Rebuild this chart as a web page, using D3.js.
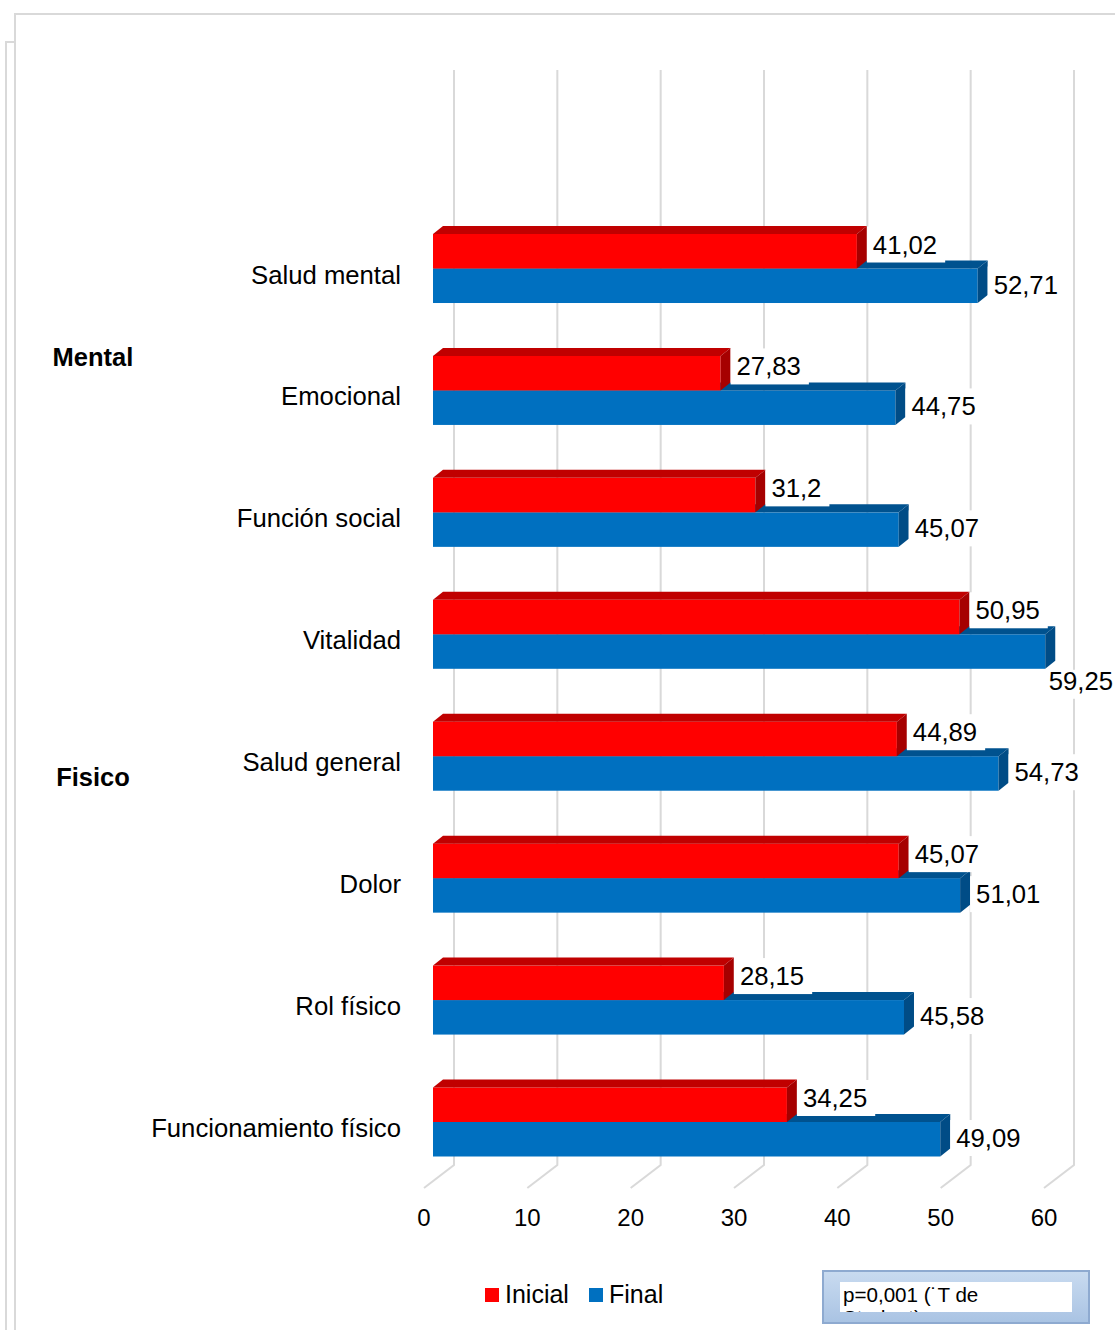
<!DOCTYPE html>
<html>
<head>
<meta charset="utf-8">
<script src="https://cdn.jsdelivr.net/npm/d3@7"></script>
<style>
  body { margin: 0; background: #fff; }
  svg { display: block; font-family: "Liberation Sans", Arial, sans-serif; }
</style>
</head>
<body>
<svg id="chart" width="1115" height="1330"></svg>
<script>
// datos
const categorias = ["Salud mental", "Emocional", "Función social", "Vitalidad",
  "Salud general", "Dolor", "Rol físico", "Funcionamiento físico"];
const inicial = [41.02, 27.83, 31.2, 50.95, 44.89, 45.07, 28.15, 34.25];
const final = [52.71, 44.75, 45.07, 59.25, 54.73, 51.01, 45.58, 49.09];
const ticks = [0, 10, 20, 30, 40, 50, 60];
const grupos = [
  { nombre: "Mental", desde: 0, hasta: 2 },
  { nombre: "Fisico", desde: 3, hasta: 7 }
];
const series = ["Inicial", "Final"];
const nota = ["p=0,001 (˙T de", "Student)"];

const svg = d3.select("#chart");
const W = 1115;

const es = d3.formatLocale({ decimal: ",", thousands: ".", grouping: [3], currency: ["", ""] });
const fmt = es.format(".2~f");

const colores = {
  Inicial: { frente: "#ff0000", arriba: "#c00000", lado: "#a60000" },
  Final: { frente: "#0070c0", arriba: "#00528f", lado: "#004c86" }
};

// escala (frente del piso), profundidad del 3D
const x = d3.scaleLinear().domain([0, 60]).range([424, 1044]);
const profX = 30, profY = 23;     // piso completo
const barX = 9;                    // cara frontal de las barras
const dx = 10, dy = 8;             // grosor de la barra

const y = d3.scaleBand()
  .domain(categorias)
  .range([234, 1156.5])
  .paddingInner(0.434)
  .paddingOuter(0);

// marco
svg.append("path")
  .attr("d", "M15,1330V14H1115")
  .attr("fill", "none").attr("stroke", "#d9d9d9").attr("stroke-width", 2);
svg.append("path")
  .attr("d", "M6,1330V42H15")
  .attr("fill", "none").attr("stroke", "#d9d9d9").attr("stroke-width", 2);

// lineas de division (pared del fondo + piso)
svg.append("g").selectAll("path")
  .data(ticks)
  .enter()
  .append("path")
  .attr("d", t => {
    const xb = x(t) + profX;
    return `M${xb},70V1165L${x(t)},${1165 + profY}`;
  })
  .attr("fill", "none")
  .attr("stroke", "#d9d9d9")
  .attr("stroke-width", 2);

// etiquetas del eje
svg.append("g").selectAll("text")
  .data(ticks)
  .enter()
  .append("text")
  .attr("x", t => x(t))
  .attr("y", 1226)
  .attr("text-anchor", "middle")
  .attr("font-size", 24)
  .text(t => t);

function barra(g, v, y0, y1, c) {
  const x0 = x(0) + barX;
  const x1 = x(v) + barX;
  g.append("rect")
    .attr("x", x0).attr("y", y0)
    .attr("width", x1 - x0).attr("height", y1 - y0)
    .attr("fill", c.frente);
  g.append("path")
    .attr("d", `M${x0},${y0}L${x0 + dx},${y0 - dy}L${x1 + dx},${y0 - dy}L${x1},${y0}Z`)
    .attr("fill", c.arriba);
  g.append("path")
    .attr("d", `M${x1},${y0}L${x1 + dx},${y0 - dy}L${x1 + dx},${y1 - dy}L${x1},${y1}Z`)
    .attr("fill", c.lado);
  return x1;
}

const gBarras = svg.append("g");
const etiquetas = [];
categorias.forEach((cat, i) => {
  const top = y(cat);
  const h = y.bandwidth() / 2;
  const mid = top + h;
  const xf = barra(gBarras, final[i], mid, top + 2 * h, colores.Final);
  const xi = barra(gBarras, inicial[i], top, mid, colores.Inicial);
  etiquetas.push({ v: inicial[i], x: xi + dx + 6, y: mid - 15, fin: xi, abajo: top + 2 * h });
  etiquetas.push({ v: final[i], x: xf + dx + 6, y: mid + 25, fin: xf, abajo: top + 2 * h });
});

// etiquetas de datos con fondo blanco
const gEtq = svg.append("g");
etiquetas.forEach(e => {
  const g = gEtq.append("g");
  const rect = g.append("rect").attr("fill", "#fff");
  const t = g.append("text")
    .attr("font-size", 25.7)
    .attr("x", e.x).attr("y", e.y)
    .text(fmt(e.v));
  const w = t.node().getComputedTextLength();
  let top = e.y - 27;
  if (e.x + w > W) {
    // no cabe a la derecha: va debajo, pegada al borde
    e.x = Math.min(e.fin + 8, W - w - 2);
    e.y = e.abajo + 21;
    top = e.abajo + 1;
    t.attr("x", e.x).attr("y", e.y);
  }
  rect.attr("x", e.x - 6).attr("y", top)
    .attr("width", w + 14).attr("height", e.y + 9 - top);
});

// categorias
svg.append("g").selectAll("text")
  .data(categorias)
  .enter()
  .append("text")
  .attr("x", 401)
  .attr("y", d => y(d) + y.bandwidth() / 2 + 15)
  .attr("text-anchor", "end")
  .attr("font-size", 25.7)
  .text(d => d);

// grupos
const yGrupo = d3.scaleBand().domain(categorias).range([199, 1039]);
svg.append("g").selectAll("text")
  .data(grupos)
  .enter()
  .append("text")
  .attr("x", 93)
  .attr("y", d => (yGrupo(categorias[d.desde]) + yGrupo(categorias[d.hasta]) + yGrupo.bandwidth()) / 2 + 9)
  .attr("text-anchor", "middle")
  .attr("font-size", 25.5)
  .attr("font-weight", "bold")
  .text(d => d.nombre);

// leyenda
const ley = svg.append("g").selectAll("g")
  .data(series)
  .enter()
  .append("g")
  .attr("transform", (d, i) => `translate(${[485, 589][i]},1288)`);
ley.append("rect")
  .attr("width", 14).attr("height", 14)
  .attr("fill", d => colores[d].frente);
ley.append("text")
  .attr("x", 20).attr("y", 15)
  .attr("font-size", 25)
  .text(d => d);

// cuadro de texto
const defs = svg.append("defs");
const grad = defs.append("linearGradient").attr("id", "azul")
  .attr("x1", 0).attr("y1", 0).attr("x2", 0).attr("y2", 1);
grad.append("stop").attr("offset", 0).attr("stop-color", "#c9dbf0");
grad.append("stop").attr("offset", 1).attr("stop-color", "#a9c3e3");
defs.append("clipPath").attr("id", "recorte")
  .append("rect").attr("x", 840).attr("y", 1282).attr("width", 232).attr("height", 30);

svg.append("rect")
  .attr("x", 823).attr("y", 1271).attr("width", 266).attr("height", 52)
  .attr("fill", "url(#azul)").attr("stroke", "#8eaad0").attr("stroke-width", 2);
svg.append("rect")
  .attr("x", 840).attr("y", 1282).attr("width", 232).attr("height", 30)
  .attr("fill", "#fff");
svg.append("g").attr("clip-path", "url(#recorte)")
  .selectAll("text")
  .data(nota)
  .enter()
  .append("text")
  .attr("x", 843)
  .attr("y", (d, i) => 1302 + i * 23)
  .attr("font-size", 20.6)
  .text(d => d);
</script>
</body>
</html>
